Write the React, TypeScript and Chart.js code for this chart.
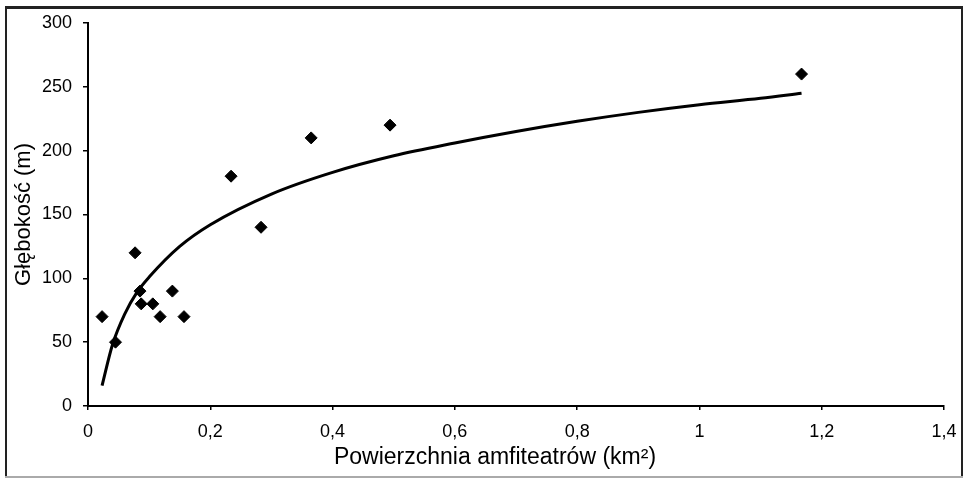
import React, { useEffect, useRef } from 'react';
import { Chart, registerables } from 'chart.js';

Chart.register(...registerables);

// Measured points (area km², depth m)
const areaKm2 = [0.023, 0.045, 0.077, 0.085, 0.087, 0.106, 0.118, 0.138, 0.157, 0.234, 0.283, 0.365, 0.494, 1.167];
const depthM = [70, 50, 120, 90, 80, 80, 70, 90, 70, 180, 140, 210, 220, 260];

// Trend curve
const trendX = [0.023, 0.04, 0.06, 0.08, 0.1, 0.15, 0.2, 0.3, 0.4, 0.5, 0.6, 0.7, 0.8, 0.9, 1.0, 1.1, 1.167];
const trendY = [16, 48, 72, 89, 101, 125, 142, 166, 183, 196, 206, 215, 223, 230, 236, 241, 245];

const xTickValues = [0, 0.2, 0.4, 0.6, 0.8, 1, 1.2, 1.4];
const xTickLabels = ['0', '0,2', '0,4', '0,6', '0,8', '1', '1,2', '1,4'];
const yTickValues = [0, 50, 100, 150, 200, 250, 300];
const yTickLabels = ['0', '50', '100', '150', '200', '250', '300'];

const xTitle = 'Powierzchnia amfiteatrów (km²)';
const yTitle = 'Głębokość (m)';

const FONT = '"Liberation Sans", Arial, Helvetica, sans-serif';

const framePlugin = {
  id: 'frame',
  afterDraw(chart: any) {
    const { ctx } = chart;
    ctx.save();
    ctx.fillStyle = '#222222';
    ctx.fillRect(5, 6, 958, 3);
    ctx.fillRect(5, 6, 2, 471);
    ctx.fillRect(961, 6, 2, 471);
    ctx.fillStyle = '#aaaaaa';
    ctx.fillRect(5, 476, 958, 2);
    ctx.fillStyle = '#000000';
    ctx.font = `23px ${FONT}`;
    ctx.textAlign = 'center';
    ctx.textBaseline = 'middle';
    ctx.fillText(xTitle, 495, 458);
    ctx.restore();
  },
};

export default function App() {
  const ref = useRef<HTMLCanvasElement | null>(null);

  useEffect(() => {
    if (!ref.current) return;
    const chart = new Chart(ref.current, {
      type: 'scatter',
      data: {
        datasets: [
          {
            label: 'points',
            data: areaKm2.map((x, i) => ({ x, y: depthM[i] })),
            pointStyle: 'rectRot',
            pointRadius: 6,
            pointBorderWidth: 1,
            backgroundColor: '#000000',
            borderColor: '#000000',
            showLine: false,
          },
          {
            label: 'trend',
            data: trendX.map((x, i) => ({ x, y: trendY[i] })),
            showLine: true,
            pointRadius: 0,
            borderColor: '#000000',
            borderWidth: 3,
            cubicInterpolationMode: 'monotone',
            fill: false,
          },
        ],
      },
      options: {
        animation: false,
        responsive: true,
        maintainAspectRatio: false,
        layout: { padding: { left: 0, top: 23, right: 25, bottom: 0 } },
        plugins: {
          legend: { display: false },
          tooltip: { enabled: false },
        },
        scales: {
          x: {
            type: 'linear',
            min: 0,
            max: 1.4,
            afterBuildTicks: (scale: any) => {
              scale.ticks = xTickValues.map((v) => ({ value: v }));
            },
            afterFit: (scale: any) => {
              scale.height = 73;
            },
            ticks: {
              callback: (_v: any, i: number) => xTickLabels[i],
              color: '#000000',
              font: { family: FONT, size: 18 },
              padding: 11,
              maxRotation: 0,
            },
            grid: {
              display: true,
              drawOnChartArea: false,
              drawTicks: true,
              tickLength: 4,
              color: '#000000',
              lineWidth: 1.5,
            },
            border: { display: true, color: '#000000', width: 2 },
            title: { display: false },
          },
          y: {
            type: 'linear',
            min: 0,
            max: 300,
            afterBuildTicks: (scale: any) => {
              scale.ticks = yTickValues.map((v) => ({ value: v }));
            },
            afterFit: (scale: any) => {
              scale.width = 88;
            },
            ticks: {
              callback: (_v: any, i: number) => yTickLabels[i],
              color: '#000000',
              font: { family: FONT, size: 18 },
              padding: 11,
            },
            grid: {
              display: true,
              drawOnChartArea: false,
              drawTicks: true,
              tickLength: 5,
              color: '#000000',
              lineWidth: 1.5,
            },
            border: { display: true, color: '#000000', width: 2 },
            title: {
              display: true,
              text: yTitle,
              color: '#000000',
              font: { family: FONT, size: 22, lineHeight: 1 },
              padding: { top: 13, bottom: 0 },
            },
          },
        },
      },
      plugins: [framePlugin],
    });
    return () => chart.destroy();
  }, []);

  return (
    <div style={{ position: 'absolute', left: 0, top: 0, width: 969, height: 479, background: '#ffffff' }}>
      <canvas ref={ref} />
    </div>
  );
}
